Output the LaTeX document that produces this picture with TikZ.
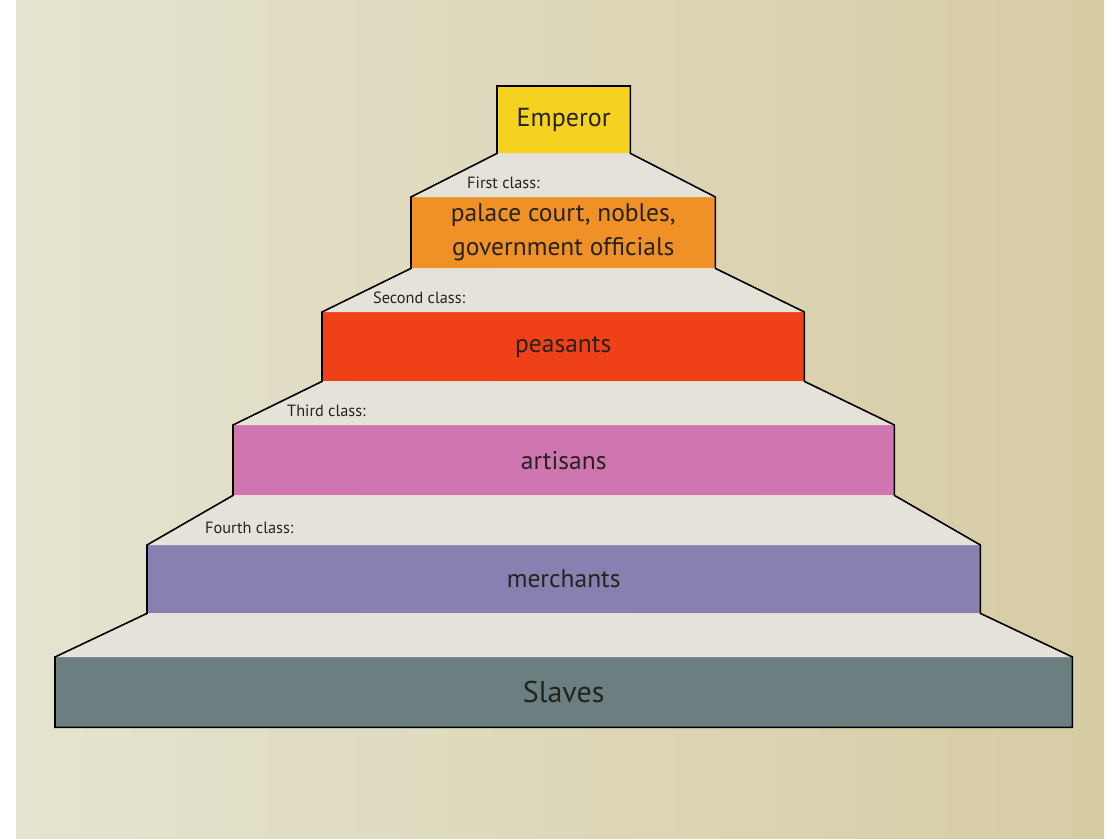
\documentclass[tikz,border=0pt]{standalone}
\usepackage{fontspec}
\setmainfont{PT Sans}
\definecolor{bgbeige}{RGB}{229,228,208}
\definecolor{bgtan}{RGB}{214,204,164}
\definecolor{stepgray}{RGB}{228,226,217}
\definecolor{bandtext}{RGB}{38,34,30}
\definecolor{emperoryellow}{RGB}{245,210,32}
\definecolor{courtorange}{RGB}{240,145,40}
\definecolor{peasantred}{RGB}{240,64,24}
\definecolor{artisanpink}{RGB}{207,118,176}
\definecolor{merchantpurple}{RGB}{137,128,178}
\definecolor{slaveslate}{RGB}{107,127,128}
\usetikzlibrary{positioning}

\begin{document}
\begin{tikzpicture}[x=1pt,y=-1pt,
  classband/.style={rectangle,inner sep=0pt,anchor=north west,align=center,
    text=bandtext,font=\fontsize{25.5}{34}\selectfont},
  classlabel/.style={anchor=west,inner sep=0pt,text=bandtext,
    font=\fontsize{16.3}{18}\selectfont},
  stepface/.style={fill=stepgray},
  pyroutline/.style={draw=black,line width=1.6pt,line join=miter}
]
  % Page and textured backdrop
  \useasboundingbox (0,0) rectangle (1119,838);
  \fill[white] (0,0) rectangle (1119,838);
  \fill[left color=bgbeige,right color=bgtan] (16,0) rectangle (1104,838);
  % Class bands, top to bottom
  \node[classband,fill=emperoryellow,minimum width=133pt,minimum height=67pt,
    font=\fontsize{26}{30}\selectfont] (emperor) at (497,86) {Emperor};
  \node[classband,fill=courtorange,minimum width=304pt,minimum height=71pt] (court) at (411,197)
    {palace court, nobles,\\government officials};
  \node[classband,fill=peasantred,minimum width=482pt,minimum height=69pt] (peasants) at (322,312) {peasants};
  \node[classband,fill=artisanpink,minimum width=661pt,minimum height=70pt] (artisans) at (233,425) {artisans};
  \node[classband,fill=merchantpurple,minimum width=833pt,minimum height=68pt] (merchants) at (147,545) {merchants};
  \node[classband,fill=slaveslate,minimum width=1017pt,minimum height=70pt,
    font=\fontsize{30}{34}\selectfont] (slaves) at (55,657) {Slaves};
  % Steps between the bands
  \fill[stepface] (emperor.south west) -- (emperor.south east) -- (court.north east) -- (court.north west) -- cycle;
  \fill[stepface] (court.south west) -- (court.south east) -- (peasants.north east) -- (peasants.north west) -- cycle;
  \fill[stepface] (peasants.south west) -- (peasants.south east) -- (artisans.north east) -- (artisans.north west) -- cycle;
  \fill[stepface] (artisans.south west) -- (artisans.south east) -- (merchants.north east) -- (merchants.north west) -- cycle;
  \fill[stepface] (merchants.south west) -- (merchants.south east) -- (slaves.north east) -- (slaves.north west) -- cycle;
  % Class labels on the steps
  \node[classlabel] (firstlbl) at (467,183) {First class:};
  \node[classlabel] (secondlbl) at (373,298) {Second class:};
  \node[classlabel] (thirdlbl) at (287,411) {Third class:};
  \node[classlabel] (fourthlbl) at (205,528) {Fourth class:};
  % Outer outline
  \draw[pyroutline] (emperor.north west) -- (emperor.north east) -- (emperor.south east)
    -- (court.north east) -- (court.south east) -- (peasants.north east) -- (peasants.south east)
    -- (artisans.north east) -- (artisans.south east) -- (merchants.north east) -- (merchants.south east)
    -- (slaves.north east) -- (slaves.south east) -- (slaves.south west) -- (slaves.north west)
    -- (merchants.south west) -- (merchants.north west) -- (artisans.south west) -- (artisans.north west)
    -- (peasants.south west) -- (peasants.north west) -- (court.south west) -- (court.north west)
    -- (emperor.south west) -- cycle;
\end{tikzpicture}
\end{document}
